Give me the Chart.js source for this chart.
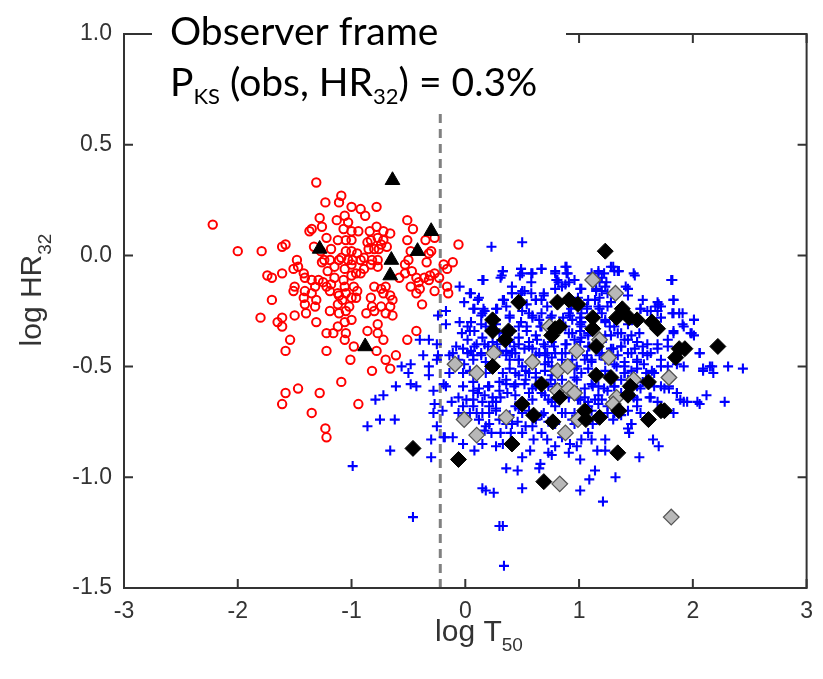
<!DOCTYPE html>
<html>
<head>
<meta charset="utf-8">
<script src="https://cdn.jsdelivr.net/npm/chart.js@4.4.1/dist/chart.umd.min.js"></script>
<style>
  html, body { margin: 0; padding: 0; background: #fff; }
</style>
</head>
<body>
<canvas id="hrChart" width="823" height="679"></canvas>
<script>
const xTicks = [-3, -2, -1, 0, 1, 2, 3];
const yTicks = [-1.5, -1.0, -0.5, 0.0, 0.5, 1.0];
const dividerX = -0.22;

// short bursts (red circles)
const shortBursts = [
  [-1.31,0.33],[-2.22,0.14],[-1.09,0.27],[-1.11,0.24],[-1.23,0.24],[-1.00,0.22],[-0.92,0.21],[-0.78,0.22],
  [-0.88,0.18],[-1.06,0.18],[-1.13,0.16],[-1.03,0.15],[-1.28,0.17],[-1.26,0.13],[-1.37,0.11],[-1.35,0.12],
  [-1.07,0.12],[-1.00,0.11],[-0.94,0.11],[-0.84,0.11],[-0.78,0.13],[-0.72,0.11],[-0.66,0.10],[-0.51,0.16],
  [-0.46,0.12],[-0.51,0.07],[-0.35,0.07],[-0.27,0.08],[-0.06,0.05],[-0.83,0.07],[-0.77,0.08],[-0.72,0.07],
  [-0.86,0.06],[-0.74,0.05],[-0.69,0.04],[-0.85,0.03],[-0.80,0.03],[-0.76,0.03],[-1.12,0.07],[-1.05,0.07],
  [-1.00,0.07],[-1.22,0.08],[-1.33,0.04],[-1.18,0.03],[-1.05,0.02],[-1.00,0.02],[-0.95,0.01],[-1.09,-0.01],
  [-1.11,-0.02],[-1.27,0.02],[-1.24,-0.02],[-1.26,-0.03],[-1.19,-0.02],[-1.03,-0.02],[-0.99,-0.02],[-0.92,-0.02],
  [-0.89,-0.01],[-0.82,-0.02],[-0.77,-0.02],[-0.83,-0.04],[-0.77,-0.05],[-0.48,0.02],[-0.50,-0.02],[-0.53,-0.04],
  [-0.32,0.01],[-0.30,0.02],[-0.34,-0.03],[-0.19,-0.04],[-0.11,-0.03],[-0.16,-0.06],[-0.27,-0.08],[-0.36,-0.10],
  [-0.43,-0.10],[-0.47,-0.07],[-0.53,-0.08],[-0.58,-0.10],[-1.06,-0.06],[-1.00,-0.04],[-1.15,-0.05],[-1.21,-0.07],
  [-1.48,-0.02],[-1.47,-0.05],[-1.51,-0.06],[-1.42,-0.08],[-1.41,-0.10],[-1.58,0.05],[-1.61,0.04],[-1.79,0.02],
  [-2.00,0.02],[-1.61,-0.08],[-1.74,-0.09],[-1.70,-0.10],[-1.35,-0.11],[-1.32,-0.14],[-1.29,-0.11],[-1.25,-0.12],
  [-1.22,-0.14],[-1.18,-0.13],[-1.15,-0.10],[-1.07,-0.11],[-1.00,-0.09],[-0.96,-0.08],[-0.92,-0.08],[-0.89,-0.06],
  [-1.06,-0.14],[-1.05,-0.17],[-1.12,-0.17],[-1.19,-0.16],[-0.98,-0.14],[-0.95,-0.16],[-1.00,-0.19],[-0.96,-0.19],
  [-1.35,-0.17],[-1.41,-0.16],[-1.50,-0.14],[-1.51,-0.16],[-1.31,-0.20],[-1.32,-0.23],[-1.41,-0.22],[-1.42,-0.19],
  [-1.11,-0.18],[-1.02,-0.23],[-1.12,-0.22],[-1.08,-0.20],[-1.19,-0.25],[-1.11,-0.26],[-1.05,-0.25],[-0.87,-0.26],
  [-0.82,-0.23],[-0.83,-0.19],[-0.80,-0.14],[-0.74,-0.15],[-0.70,-0.14],[-0.72,-0.17],[-0.66,-0.18],[-0.64,-0.20],
  [-0.66,-0.23],[-0.74,-0.23],[-0.80,-0.25],[-0.70,-0.26],[-0.64,-0.27],[-0.38,-0.22],[-0.43,-0.17],[-0.40,-0.15],
  [-0.48,-0.14],[-0.41,-0.12],[-0.32,-0.11],[-0.27,-0.16],[-0.16,-0.14],[-0.15,-0.17],[-1.70,-0.20],[-1.80,-0.28],
  [-1.61,-0.28],[-1.50,-0.27],[-1.40,-0.26],[-0.31,-0.09],[-0.23,-0.10],
  [-1.65,-0.30],[-1.61,-0.32],[-1.31,-0.30],[-1.22,-0.35],[-1.16,-0.35],[-1.12,-0.32],[-1.06,-0.30],[-1.00,-0.29],
  [-1.05,-0.35],[-1.06,-0.38],[-0.86,-0.34],[-0.77,-0.31],[-0.77,-0.35],[-0.72,-0.38],[-0.43,-0.34],[-0.51,-0.38],
  [-1.54,-0.38],[-1.58,-0.43],[-1.22,-0.43],[-0.98,-0.41],[-1.01,-0.47],[-0.78,-0.43],[-0.70,-0.47],[-0.66,-0.51],
  [-0.61,-0.45],[-1.09,-0.57],[-0.82,-0.52],[-1.47,-0.60],[-1.58,-0.62],[-1.61,-0.67],[-1.28,-0.62],[-0.94,-0.67],
  [-1.35,-0.71],[-1.23,-0.78],[-1.22,-0.82]
];

// long bursts (blue crosses)
const longBursts = [
  [0.23,0.04],[0.50,0.06],[1.30,-0.05],[1.31,-0.07],
  [0.33,-0.07],[0.32,-0.09],[0.49,-0.06],[0.50,-0.08],[0.58,-0.08],[0.67,-0.06],[0.79,-0.08],[0.80,-0.11],
  [0.89,-0.05],[0.90,-0.08],[0.82,-0.12],[0.91,-0.12],[1.11,-0.08],[1.17,-0.08],[1.22,-0.08],[1.18,-0.12],
  [1.24,-0.12],[1.35,-0.07],[1.48,-0.08],[1.81,-0.11],[0.16,-0.11],[0.41,-0.14],[0.50,-0.16],[0.58,-0.12],
  [-0.05,-0.14],[0.04,-0.17],[-0.01,-0.21],[0.11,-0.20],[0.16,-0.24],[0.27,-0.24],[0.33,-0.20],[0.41,-0.17],
  [0.49,-0.17],[0.58,-0.17],[0.69,-0.17],[0.67,-0.20],[0.85,-0.14],[1.02,-0.15],[1.15,-0.15],[1.20,-0.16],
  [1.25,-0.17],[1.14,-0.20],[1.08,-0.20],[0.99,-0.19],[1.41,-0.14],[1.43,-0.18],[1.56,-0.20],[1.69,-0.21],
  [1.83,-0.20],[1.25,-0.23],[1.18,-0.24],[1.07,-0.23],[0.93,-0.24],[0.54,-0.22],[0.62,-0.20],[0.07,-0.24],
  [0.17,-0.25],[-0.17,-0.25],[-0.24,-0.27],[1.72,-0.23],
  [-0.17,-0.31],[-0.05,-0.30],[0.02,-0.32],[0.08,-0.34],[0.14,-0.27],[0.27,-0.29],[0.27,-0.31],[0.39,-0.28],
  [0.50,-0.25],[0.59,-0.27],[0.65,-0.29],[0.75,-0.28],[0.86,-0.28],[0.94,-0.29],[1.01,-0.31],[0.91,-0.26],
  [1.02,-0.26],[1.23,-0.29],[1.27,-0.32],[1.31,-0.32],[1.43,-0.31],[1.54,-0.24],[1.60,-0.25],[1.69,-0.25],
  [1.88,-0.26],[1.82,-0.26],[2.01,-0.29],[1.91,-0.31],[1.72,-0.28],[1.02,-0.32],[0.91,-0.35],[0.66,-0.32],
  [0.54,-0.32],[0.49,-0.30],[0.18,-0.32],[0.02,-0.38],[-0.03,-0.35],
  [-0.40,-0.38],[-0.32,-0.38],[-0.25,-0.40],[-0.37,-0.45],[-0.08,-0.41],[-0.11,-0.44],[-0.02,-0.42],[0.05,-0.43],
  [0.10,-0.40],[0.20,-0.41],[0.28,-0.40],[0.39,-0.38],[0.43,-0.41],[0.47,-0.37],[0.56,-0.39],[0.59,-0.42],
  [0.69,-0.40],[0.78,-0.41],[0.89,-0.40],[0.96,-0.38],[1.02,-0.37],[1.08,-0.35],[1.23,-0.36],[1.37,-0.35],
  [1.43,-0.38],[1.53,-0.35],[1.56,-0.41],[1.69,-0.40],[1.78,-0.41],[1.98,-0.35],[2.01,-0.36],[1.83,-0.34],
  [2.06,-0.44],[1.30,-0.42],[1.37,-0.41],[1.49,-0.42],[0.15,-0.37],[0.30,-0.44],[0.36,-0.43],[0.44,-0.44],
  [0.72,-0.44],[0.85,-0.44],[1.08,-0.41],[1.20,-0.44],[1.43,-0.44],[1.63,-0.44],
  [-0.56,-0.50],[-0.50,-0.53],[-0.48,-0.49],[-0.32,-0.50],[-0.32,-0.54],[-0.24,-0.45],[-0.25,-0.47],[-0.14,-0.45],
  [-0.06,-0.47],[-0.01,-0.49],[0.07,-0.47],[0.14,-0.44],[0.39,-0.47],[0.47,-0.47],[0.50,-0.50],[0.56,-0.53],
  [0.62,-0.45],[0.70,-0.49],[0.76,-0.46],[0.85,-0.47],[0.98,-0.50],[1.05,-0.47],[1.11,-0.47],[1.23,-0.47],
  [1.31,-0.49],[1.40,-0.50],[1.51,-0.47],[1.57,-0.49],[1.72,-0.50],[1.86,-0.49],[2.09,-0.51],[2.17,-0.50],
  [2.18,-0.53],[2.31,-0.50],[2.44,-0.51],[1.92,-0.50],[1.66,-0.53],[1.40,-0.53],[0.96,-0.55],[0.76,-0.54],
  [0.62,-0.55],[0.47,-0.54],[0.33,-0.53],[0.18,-0.53],[0.04,-0.52],[-0.02,-0.53],[-0.14,-0.53],[-0.43,-0.59],
  [-0.48,-0.58],
  [-0.28,-0.61],[-0.27,-0.67],[-0.19,-0.58],[-0.17,-0.59],[-0.12,-0.66],[-0.06,-0.64],[-0.02,-0.59],[0.07,-0.61],
  [0.11,-0.62],[0.20,-0.59],[0.24,-0.64],[0.30,-0.61],[0.36,-0.58],[0.43,-0.59],[0.52,-0.58],[0.56,-0.62],
  [0.62,-0.59],[0.67,-0.62],[0.73,-0.59],[0.79,-0.58],[0.85,-0.61],[0.91,-0.64],[0.98,-0.61],[1.05,-0.64],
  [1.12,-0.59],[1.17,-0.59],[1.25,-0.61],[1.31,-0.59],[1.37,-0.62],[1.43,-0.56],[1.54,-0.60],[1.66,-0.59],
  [1.72,-0.59],[1.79,-0.60],[1.89,-0.65],[1.95,-0.66],[2.06,-0.67],[2.12,-0.63],[2.28,-0.66],[1.86,-0.62],
  [1.62,-0.64],[1.51,-0.65],[1.14,-0.65],[1.01,-0.65],[0.73,-0.65],[0.44,-0.63],[0.27,-0.66],[0.15,-0.66],
  [0.01,-0.65],
  [-0.28,-0.71],[-0.20,-0.70],[-0.25,-0.77],[-0.18,-0.82],[-0.06,-0.71],[-0.02,-0.68],[0.07,-0.68],[0.15,-0.71],
  [0.21,-0.68],[0.27,-0.70],[0.44,-0.68],[0.50,-0.71],[0.56,-0.70],[0.62,-0.74],[0.69,-0.71],[0.79,-0.68],
  [0.85,-0.71],[0.96,-0.71],[1.08,-0.68],[1.17,-0.67],[1.25,-0.68],[1.31,-0.71],[1.43,-0.70],[1.51,-0.68],
  [1.30,-0.74],[1.12,-0.76],[0.96,-0.76],[0.79,-0.76],[0.59,-0.77],[0.46,-0.75],[0.36,-0.76],[0.21,-0.76],
  [0.10,-0.71],[0.17,-0.79],[0.31,-0.80],[0.67,-0.80],
  [-0.30,-0.83],[-0.19,-0.82],[-0.11,-0.82],[-0.02,-0.85],[0.08,-0.88],[0.15,-0.85],[0.23,-0.80],[0.27,-0.86],
  [0.33,-0.85],[0.40,-0.80],[0.50,-0.80],[0.60,-0.83],[0.72,-0.83],[0.79,-0.86],[0.85,-0.82],[0.92,-0.85],
  [0.98,-0.86],[1.02,-0.83],[1.08,-0.80],[1.11,-0.83],[1.16,-0.88],[1.23,-0.83],[1.43,-0.78],[1.44,-0.80],
  [1.46,-0.76],[1.65,-0.83],[1.70,-0.86],[0.91,-0.89],[0.73,-0.89],
  [-0.30,-0.91],[0.36,-0.96],[0.46,-0.97],[0.50,-0.91],[0.57,-0.88],[0.66,-0.94],[0.76,-0.90],[1.01,-0.92],
  [1.14,-0.97],[1.23,-0.88],[1.53,-0.91],[0.65,-0.96],
  [0.30,-1.22],[0.33,-1.22],[0.34,-1.40],[-0.46,-1.18],[1.21,-1.11],[1.01,-1.06],[1.32,-1.00],[1.09,-1.01],
  [0.15,-1.05],[0.18,-1.06],[0.25,-1.07],[0.50,-1.05],[-0.99,-0.95],[-0.66,-0.88],
  [-0.79,-0.65],[-0.72,-0.63],[-0.86,-0.77],[-0.75,-0.74],[-0.62,-0.74],[-0.61,-0.59]
];

// extra long bursts read from the dense core
const longBurstsCore = [
  [0.15,-0.11],[0.33,-0.07],[0.31,-0.10],[0.49,-0.06],[0.48,-0.09],[0.59,-0.08],[0.67,-0.06],[0.79,-0.07],
  [0.81,-0.11],[0.88,-0.05],[0.89,-0.08],[0.96,-0.11],[1.01,-0.15],[1.17,-0.07],[1.20,-0.10],[1.23,-0.14],
  [1.28,-0.05],[1.34,-0.07],[1.43,-0.15],[1.49,-0.09],[1.82,-0.11],[0.05,-0.17],[0.12,-0.19],[0.34,-0.20],
  [0.41,-0.17],[0.52,-0.16],[0.62,-0.20],[0.69,-0.18],[0.79,-0.15],[0.88,-0.13],[1.15,-0.16],[1.18,-0.19],
  [1.28,-0.21],
  [0.08,-0.24],[0.15,-0.26],[0.28,-0.24],[0.36,-0.23],[0.39,-0.27],[0.56,-0.26],[0.59,-0.28],[0.67,-0.26],
  [0.72,-0.23],[0.76,-0.27],[0.92,-0.27],[1.01,-0.28],[1.02,-0.30],[1.07,-0.24],[1.17,-0.23],[1.20,-0.26],
  [1.23,-0.30],[1.54,-0.24],[1.63,-0.25],[1.67,-0.23],[1.70,-0.22],[1.83,-0.20],[1.83,-0.26],[1.91,-0.26],
  [2.01,-0.29],[0.05,-0.30],[0.04,-0.34],[0.14,-0.31],
  [0.30,-0.35],[0.41,-0.34],[0.47,-0.32],[0.54,-0.34],[0.62,-0.36],[0.67,-0.32],[0.88,-0.32],[0.94,-0.35],
  [1.01,-0.34],[1.08,-0.36],[1.28,-0.36],[1.34,-0.35],[1.40,-0.38],[1.46,-0.36],[1.51,-0.39],[1.60,-0.40],
  [1.69,-0.42],[1.78,-0.38],[1.83,-0.35],[1.92,-0.32],[1.99,-0.35],[0.08,-0.41],[0.17,-0.40],[0.24,-0.39],
  [0.39,-0.39],[0.47,-0.40],[0.56,-0.41],[0.63,-0.38],[0.70,-0.41],[0.76,-0.39],[0.88,-0.40],[1.01,-0.39],
  [1.09,-0.41],[1.20,-0.39],[1.28,-0.42],[1.37,-0.41],
  [0.02,-0.44],[0.07,-0.45],[0.14,-0.45],[0.18,-0.48],[0.30,-0.43],[0.36,-0.45],[0.41,-0.44],[0.47,-0.47],
  [0.52,-0.42],[0.65,-0.44],[0.70,-0.45],[0.73,-0.48],[0.79,-0.44],[0.88,-0.44],[0.94,-0.47],[1.07,-0.45],
  [1.11,-0.48],[1.18,-0.45],[1.34,-0.45],[1.40,-0.48],[1.46,-0.44],[1.51,-0.48],[1.56,-0.44],[1.60,-0.45],
  [1.72,-0.47],[1.78,-0.50],[2.06,-0.44],[2.15,-0.50],[2.09,-0.52],[0.39,-0.51],[0.44,-0.53],[0.53,-0.52],
  [0.62,-0.53],[0.70,-0.52],[0.76,-0.50],[0.96,-0.51],[1.02,-0.53],[1.08,-0.51],[1.23,-0.52],[1.33,-0.50],
  [1.40,-0.53],[1.46,-0.52],[1.51,-0.51],[1.59,-0.53],[1.64,-0.52],
  [0.07,-0.57],[0.12,-0.60],[0.21,-0.59],[0.30,-0.57],[0.36,-0.56],[0.44,-0.58],[0.53,-0.56],[0.59,-0.60],
  [0.67,-0.57],[0.75,-0.56],[0.85,-0.56],[0.98,-0.56],[1.05,-0.60],[1.11,-0.58],[1.22,-0.60],[1.31,-0.59],
  [1.37,-0.56],[1.51,-0.59],[1.56,-0.57],[1.75,-0.60],[1.86,-0.62],[1.92,-0.66],[2.04,-0.66],[0.07,-0.65],
  [0.17,-0.63],[0.24,-0.66],[0.31,-0.64],[0.37,-0.62],[0.59,-0.65],[0.70,-0.63],[0.76,-0.66],[0.99,-0.65],
  [1.08,-0.66],[1.17,-0.63],[1.20,-0.65],[1.33,-0.63],[1.48,-0.64],[1.63,-0.64],[1.69,-0.66],[1.79,-0.59],
  [0.04,-0.71],[0.12,-0.74],[0.21,-0.71],[0.27,-0.69],[0.39,-0.72],[0.41,-0.76],[0.53,-0.77],[0.67,-0.72],
  [0.73,-0.75],[0.88,-0.71],[0.94,-0.74],[1.11,-0.70],[1.25,-0.71],[1.37,-0.72],[1.46,-0.76],[1.54,-0.71],
  [1.75,-0.69],[1.83,-0.71],[0.18,-0.77],[0.30,-0.74],[0.47,-0.69]
];

// bursts with redshift (black diamonds)
const redshiftLong = [
  [1.23,0.02],[0.47,-0.21],[0.81,-0.21],[0.91,-0.20],[0.99,-0.22],[0.24,-0.29],[0.24,-0.34],[0.38,-0.34],
  [0.35,-0.38],[0.79,-0.33],[0.83,-0.32],[0.76,-0.36],[1.12,-0.28],[1.12,-0.33],[1.38,-0.24],[1.33,-0.28],
  [1.44,-0.28],[1.51,-0.29],[1.64,-0.30],[1.69,-0.33],[1.15,-0.41],[1.88,-0.42],[1.93,-0.42],[1.85,-0.46],
  [2.22,-0.41],[0.24,-0.50],[0.67,-0.58],[1.15,-0.54],[1.28,-0.55],[1.45,-0.59],[1.43,-0.63],[1.61,-0.57],
  [0.50,-0.67],[0.60,-0.72],[0.77,-0.75],[0.83,-0.64],[1.05,-0.70],[1.06,-0.74],[1.18,-0.73],[1.35,-0.70],
  [1.61,-0.74],[1.72,-0.70],[1.75,-0.70],[0.41,-0.85],[1.34,-0.89],[-0.06,-0.92],[0.69,-1.02],[-0.46,-0.87]
];

// grey diamonds
const greyLong = [
  [1.12,-0.11],[1.32,-0.17],[0.74,-0.32],[1.18,-0.38],[0.25,-0.44],[0.98,-0.43],[1.26,-0.46],[-0.09,-0.49],
  [0.10,-0.53],[0.59,-0.48],[0.81,-0.52],[0.90,-0.50],[0.81,-0.61],[0.91,-0.60],[0.96,-0.62],[1.33,-0.64],
  [1.30,-0.67],[1.48,-0.56],[1.79,-0.55],[0.36,-0.73],[-0.01,-0.74],[0.10,-0.81],[0.88,-0.80],[0.99,-0.74],
  [0.83,-1.03],[1.81,-1.18]
];

// black triangles
const redshiftShort = [
  [-0.64,0.34],[-0.30,0.11],[-1.28,0.03],[-0.42,0.02],[-0.65,-0.02],[-0.66,-0.09],[-0.88,-0.41]
];

const toXY = arr => arr.map(p => ({ x: p[0], y: p[1] }));

const frameAndText = {
  id: 'frameAndText',
  afterDraw(chart) {
    const { ctx, chartArea: a, scales: { x, y } } = chart;
    ctx.save();

    // box frame with inward ticks
    ctx.strokeStyle = '#333';
    ctx.lineWidth = 2;
    ctx.strokeRect(a.left, a.top, a.right - a.left, a.bottom - a.top);
    ctx.beginPath();
    xTicks.forEach(v => {
      const px = x.getPixelForValue(v);
      ctx.moveTo(px, a.bottom); ctx.lineTo(px, a.bottom - 9);
      ctx.moveTo(px, a.top); ctx.lineTo(px, a.top + 9);
    });
    yTicks.forEach(v => {
      const py = y.getPixelForValue(v);
      ctx.moveTo(a.left, py); ctx.lineTo(a.left + 9, py);
      ctx.moveTo(a.right, py); ctx.lineTo(a.right - 9, py);
    });
    ctx.stroke();

    // annotation box over the top edge
    ctx.fillStyle = '#fff';
    ctx.fillRect(a.left + 28, 6, 414, a.top + 72);

    const big = '39px Lato', small = '22px Lato';
    ctx.fillStyle = '#000';
    ctx.textBaseline = 'alphabetic';
    ctx.textAlign = 'left';
    ctx.font = big;
    ctx.fillText('Observer frame', a.left + 46, 45);
    drawParts(ctx, [
      ['P', big, 0], ['KS', small, 8], [' (obs, HR', big, 0], ['32', small, 8], [') = 0.3%', big, 0]
    ], a.left + 46, 96);

    // axis titles
    const tf = '30px "Liberation Sans"', sf = '19px "Liberation Sans"';
    ctx.fillStyle = '#333';
    const xParts = [['log T', tf, 0], ['50', sf, 10]];
    const xw = partsWidth(ctx, xParts);
    drawParts(ctx, xParts, 479 - xw / 2, 641);

    const yParts = [['log HR', tf, 0], ['32', sf, 10]];
    const yw = partsWidth(ctx, yParts);
    ctx.translate(41, 290);
    ctx.rotate(-Math.PI / 2);
    drawParts(ctx, yParts, -yw / 2, 0);
    ctx.restore();
  }
};

function partsWidth(ctx, parts) {
  let w = 0;
  parts.forEach(([t, f]) => { ctx.font = f; w += ctx.measureText(t).width; });
  return w;
}

function drawParts(ctx, parts, x0, y0) {
  let cx = x0;
  parts.forEach(([t, f, dy]) => {
    ctx.font = f;
    ctx.fillText(t, cx, y0 + dy);
    cx += ctx.measureText(t).width;
  });
}

new Chart(document.getElementById('hrChart'), {
  type: 'scatter',
  data: {
    datasets: [
      {
        label: 'short, z',
        data: toXY(redshiftShort),
        pointStyle: 'triangle',
        pointRadius: 8.5,
        backgroundColor: '#000',
        borderColor: '#000',
        borderWidth: 1
      },
      {
        label: 'long, z',
        data: toXY(redshiftLong),
        pointStyle: 'rectRot',
        pointRadius: 8,
        backgroundColor: '#000',
        borderColor: '#000',
        borderWidth: 1
      },
      {
        label: 'long, grey',
        data: toXY(greyLong),
        pointStyle: 'rectRot',
        pointRadius: 7.8,
        backgroundColor: '#b8b8b8',
        borderColor: '#555',
        borderWidth: 1.3
      },
      {
        label: 'short',
        data: toXY(shortBursts),
        pointStyle: 'circle',
        pointRadius: 4.2,
        backgroundColor: 'rgba(0,0,0,0)',
        borderColor: '#ff0000',
        borderWidth: 2
      },
      {
        label: 'long',
        data: toXY(longBursts.concat(longBurstsCore)),
        pointStyle: 'cross',
        pointRadius: 5,
        borderColor: '#0000ff',
        borderWidth: 2.1
      },
      {
        label: 'divider',
        data: [{ x: dividerX, y: -1.5 }, { x: dividerX, y: 1.0 }],
        showLine: true,
        pointRadius: 0,
        borderColor: '#808080',
        borderWidth: 3,
        borderDash: [9, 6]
      }
    ]
  },
  options: {
    responsive: false,
    animation: false,
    devicePixelRatio: 1,
    layout: { padding: { top: 34, right: 9, left: 0, bottom: 0 } },
    plugins: {
      legend: { display: false },
      tooltip: { enabled: false }
    },
    scales: {
      x: {
        type: 'linear',
        min: -3,
        max: 3,
        afterBuildTicks: s => { s.ticks = xTicks.map(v => ({ value: v })); },
        afterFit: s => { s.height = 91; },
        grid: { display: false, drawTicks: false },
        border: { display: false },
        ticks: {
          font: { family: 'Liberation Sans', size: 23 },
          color: '#333',
          padding: 10,
          callback: v => String(v)
        }
      },
      y: {
        min: -1.5,
        max: 1.0,
        afterBuildTicks: s => { s.ticks = yTicks.map(v => ({ value: v })); },
        afterFit: s => { s.width = 124; },
        grid: { display: false, drawTicks: false },
        border: { display: false },
        ticks: {
          font: { family: 'Liberation Sans', size: 23 },
          color: '#333',
          padding: 12,
          callback: v => v.toFixed(1)
        }
      }
    }
  },
  plugins: [frameAndText]
});
</script>
</body>
</html>
